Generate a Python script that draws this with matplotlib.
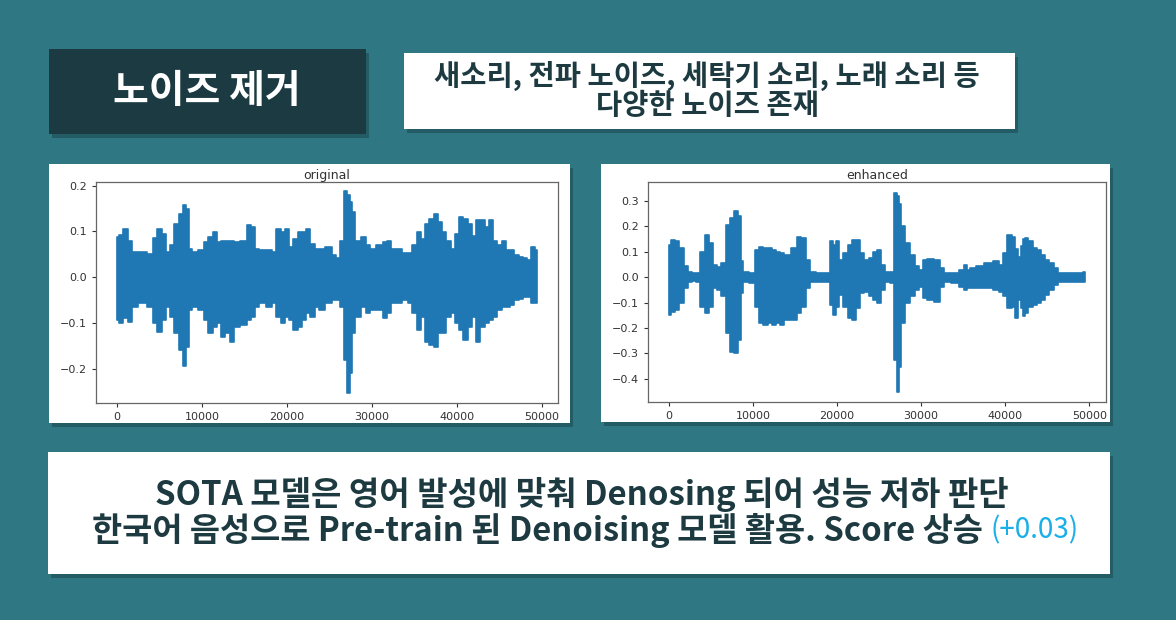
import matplotlib
matplotlib.use('Agg')
import matplotlib.pyplot as plt
from matplotlib.patches import Rectangle

plt.rcParams['font.family'] = ['Noto Sans CJK KR', 'DejaVu Sans']

# figure size in pixels
W, H = 1176, 620

# waveform envelopes (sample index, upper, lower)
orig_x = [0, 500, 1000, 1500, 2000, 3000, 4000, 4500, 5000, 5500, 6000, 6500, 7000, 7500,
          8000, 8300, 8700, 9000, 10000, 10500, 11000, 11500, 12000, 12500, 13000, 13500,
          14000, 15000, 15500, 16000, 16500, 17000, 18000, 18500, 19000, 19500, 20000, 20500,
          21000, 21500, 22000, 22500, 23000, 23500, 24000, 25000, 25500, 26000, 26500, 27000,
          27200, 27500, 27800, 28300, 29000, 29500, 30000, 31000, 31500, 32000, 32500, 33000,
          34000, 34500, 35000, 35500, 36000, 36500, 37000, 37500, 38000, 38500, 39000, 39500,
          40000, 40500, 41000, 41500, 42000, 42500, 43000, 43500, 44000, 44500, 45000, 45500,
          46000, 46500, 47000, 47500, 48000, 48500, 49000, 49400]
orig_hi = [0.088, 0.092, 0.105, 0.080, 0.055, 0.055, 0.050, 0.086, 0.105, 0.095, 0.055, 0.070,
           0.117, 0.139, 0.157, 0.150, 0.062, 0.055, 0.059, 0.077, 0.088, 0.099, 0.077, 0.080,
           0.080, 0.078, 0.077, 0.080, 0.113, 0.110, 0.062, 0.059, 0.059, 0.055, 0.106, 0.099,
           0.106, 0.066, 0.084, 0.099, 0.099, 0.106, 0.073, 0.062, 0.062, 0.066, 0.048, 0.041,
           0.080, 0.188, 0.180, 0.164, 0.142, 0.080, 0.088, 0.070, 0.062, 0.070, 0.077, 0.080,
           0.062, 0.062, 0.052, 0.052, 0.070, 0.099, 0.084, 0.117, 0.128, 0.139, 0.120, 0.099,
           0.080, 0.062, 0.095, 0.131, 0.128, 0.117, 0.091, 0.124, 0.124, 0.110, 0.124, 0.080,
           0.070, 0.080, 0.059, 0.059, 0.048, 0.044, 0.041, 0.037, 0.066, 0.059]
orig_lo = [-0.094, -0.100, -0.090, -0.097, -0.065, -0.057, -0.065, -0.100, -0.119, -0.094,
           -0.065, -0.086, -0.123, -0.159, -0.195, -0.152, -0.072, -0.065, -0.072, -0.094,
           -0.123, -0.108, -0.100, -0.130, -0.123, -0.141, -0.108, -0.105, -0.094, -0.086,
           -0.065, -0.057, -0.065, -0.057, -0.086, -0.100, -0.086, -0.094, -0.115, -0.108,
           -0.094, -0.079, -0.086, -0.065, -0.072, -0.057, -0.050, -0.050, -0.065, -0.181,
           -0.254, -0.210, -0.123, -0.086, -0.065, -0.079, -0.072, -0.072, -0.090, -0.079,
           -0.057, -0.057, -0.050, -0.057, -0.079, -0.115, -0.086, -0.141, -0.148, -0.152,
           -0.123, -0.123, -0.086, -0.079, -0.100, -0.115, -0.137, -0.108, -0.086, -0.141,
           -0.108, -0.100, -0.094, -0.086, -0.072, -0.065, -0.065, -0.060, -0.050, -0.047,
           -0.043, -0.043, -0.057, -0.057]

enh_x = [0, 500, 1000, 1500, 2000, 2500, 3000, 3500, 4000, 4500, 5000, 5500, 6000, 6500,
         7000, 7500, 8000, 8400, 8700, 9000, 10000, 10500, 11000, 11500, 12000, 12500, 13000,
         13500, 14000, 15000, 15500, 16000, 16500, 17000, 18000, 19000, 19300, 19700, 20000,
         20500, 21000, 21500, 22000, 22500, 23000, 23500, 24000, 24500, 25000, 25500, 26000,
         26500, 27000, 27200, 27500, 27800, 28300, 29000, 29500, 30000, 30500, 31000, 32000,
         32500, 33000, 34000, 35000, 35300, 35700, 36000, 37000, 38000, 39000, 39500, 40000,
         40500, 41000, 41300, 41700, 42000, 42300, 42500, 43000, 43500, 44000, 44500, 45000,
         45500, 46000, 46500, 47500, 48500, 49000, 49500]
enh_hi = [0.128, 0.145, 0.141, 0.114, 0.042, 0.022, 0.018, 0.018, 0.100, 0.167, 0.134, 0.049,
          0.040, 0.055, 0.207, 0.233, 0.259, 0.240, 0.062, 0.022, 0.018, 0.108, 0.118, 0.116,
          0.114, 0.108, 0.101, 0.095, 0.088, 0.114, 0.160, 0.154, 0.068, 0.022, 0.018, 0.016,
          0.141, 0.128, 0.141, 0.068, 0.095, 0.128, 0.147, 0.147, 0.095, 0.068, 0.075, 0.101,
          0.108, 0.049, 0.022, 0.022, 0.332, 0.320, 0.290, 0.200, 0.134, 0.088, 0.042, 0.029,
          0.068, 0.071, 0.068, 0.036, 0.018, 0.018, 0.029, 0.049, 0.029, 0.036, 0.045, 0.055,
          0.062, 0.049, 0.095, 0.167, 0.160, 0.110, 0.080, 0.121, 0.150, 0.154, 0.141, 0.114,
          0.108, 0.088, 0.068, 0.055, 0.036, 0.018, 0.016, 0.016, 0.018, 0.022]
enh_lo = [-0.149, -0.136, -0.129, -0.103, -0.043, -0.020, -0.017, -0.020, -0.116, -0.142,
          -0.116, -0.043, -0.050, -0.076, -0.221, -0.293, -0.300, -0.247, -0.063, -0.021,
          -0.024, -0.116, -0.182, -0.188, -0.182, -0.188, -0.182, -0.188, -0.168, -0.168,
          -0.142, -0.116, -0.043, -0.021, -0.021, -0.021, -0.109, -0.149, -0.116, -0.070,
          -0.116, -0.162, -0.168, -0.122, -0.063, -0.057, -0.076, -0.089, -0.103, -0.050,
          -0.021, -0.024, -0.326, -0.451, -0.353, -0.182, -0.103, -0.076, -0.050, -0.037,
          -0.083, -0.089, -0.096, -0.037, -0.021, -0.024, -0.037, -0.050, -0.043, -0.043,
          -0.043, -0.043, -0.050, -0.060, -0.076, -0.122, -0.116, -0.162, -0.089, -0.120,
          -0.155, -0.140, -0.116, -0.110, -0.103, -0.089, -0.070, -0.050, -0.030, -0.021,
          -0.021, -0.021, -0.021, -0.021]

orig_yticks = [-0.2, -0.1, 0.0, 0.1, 0.2]
enh_yticks = [-0.4, -0.3, -0.2, -0.1, 0.0, 0.1, 0.2, 0.3]
xticks = [0, 10000, 20000, 30000, 40000, 50000]

title_text = '노이즈 제거'
top_lines = ['새소리, 전파 노이즈, 세탁기 소리, 노래 소리 등', '다양한 노이즈 존재']
bottom_line1 = 'SOTA 모델은 영어 발성에 맞춰 Denosing 되어 성능 저하 판단'
bottom_line2 = '한국어 음성으로 Pre-train 된 Denoising 모델 활용. Score 상승'
bottom_score = '(+0.03)'

bg = '#2f7883'
dark = '#1d3a41'
wave = '#1f77b4'


def frac(l, t, r, b):
    return [l / W, 1 - b / H, (r - l) / W, (b - t) / H]


fig = plt.figure(figsize=(W / 100, H / 100), dpi=100)
fig.patch.set_facecolor(bg)

# background layer in pixel coords
bga = fig.add_axes([0, 0, 1, 1])
bga.set_xlim(0, W)
bga.set_ylim(H, 0)
bga.axis('off')


def box(l, t, r, b, color):
    bga.add_patch(Rectangle((l + 3, t + 4), r - l, b - t, color='#1a4249', alpha=0.5, lw=0))
    bga.add_patch(Rectangle((l, t), r - l, b - t, color=color, lw=0))


box(49, 49, 366, 134, '#1b3a41')
box(404, 53, 1015, 129, 'white')
box(49, 164, 570, 423, 'white')
box(601, 164, 1110, 422, 'white')
box(48, 452, 1110, 574, 'white')

bga.text(207, 91, title_text, color='white', fontsize=28, fontweight='bold',
         ha='center', va='center')
bga.text(707, 76, top_lines[0], color=dark, fontsize=20.5, fontweight='bold',
         ha='center', va='center')
bga.text(707, 106, top_lines[1], color=dark, fontsize=20.5, fontweight='bold',
         ha='center', va='center')
bga.text(582, 495, bottom_line1, color=dark, fontsize=23.8, fontweight='bold',
         ha='center', va='center')

t2 = bga.text(0, 530, bottom_line2 + ' ', color=dark, fontsize=23.6, fontweight='bold',
              ha='left', va='center')
t3 = bga.text(0, 530, bottom_score, color='#1aafe6', fontsize=20,
              ha='left', va='center')
fig.canvas.draw()
r = fig.canvas.get_renderer()
w2 = t2.get_window_extent(r).width
w3 = t3.get_window_extent(r).width
x0 = 585 - (w2 + w3) / 2
t2.set_x(x0)
t3.set_x(x0 + w2)


def wave_axes(rect, x, hi, lo, title, yticks, ylim):
    ax = fig.add_axes(frac(*rect))
    ax.fill_between(x, lo, hi, step='mid', color=wave, lw=1.2, edgecolor=wave)
    ax.set_ylim(*ylim)
    ax.set_xticks(xticks)
    ax.set_yticks(yticks)
    ax.set_title(title, fontsize=9, color='#333333', pad=2, family='DejaVu Sans')
    ax.tick_params(labelsize=8, colors='#333333', length=3, width=0.8)
    for lab in ax.get_xticklabels() + ax.get_yticklabels():
        lab.set_family('DejaVu Sans')
    for s in ax.spines.values():
        s.set_color('#666666')
        s.set_linewidth(0.9)
    return ax


wave_axes((96, 182, 558, 403), orig_x, orig_hi, orig_lo, 'original', orig_yticks, (-0.275, 0.208))
wave_axes((648, 182, 1106, 402), enh_x, enh_hi, enh_lo, 'enhanced', enh_yticks, (-0.492, 0.375))

fig.savefig('out.png', dpi=100, facecolor=bg)
